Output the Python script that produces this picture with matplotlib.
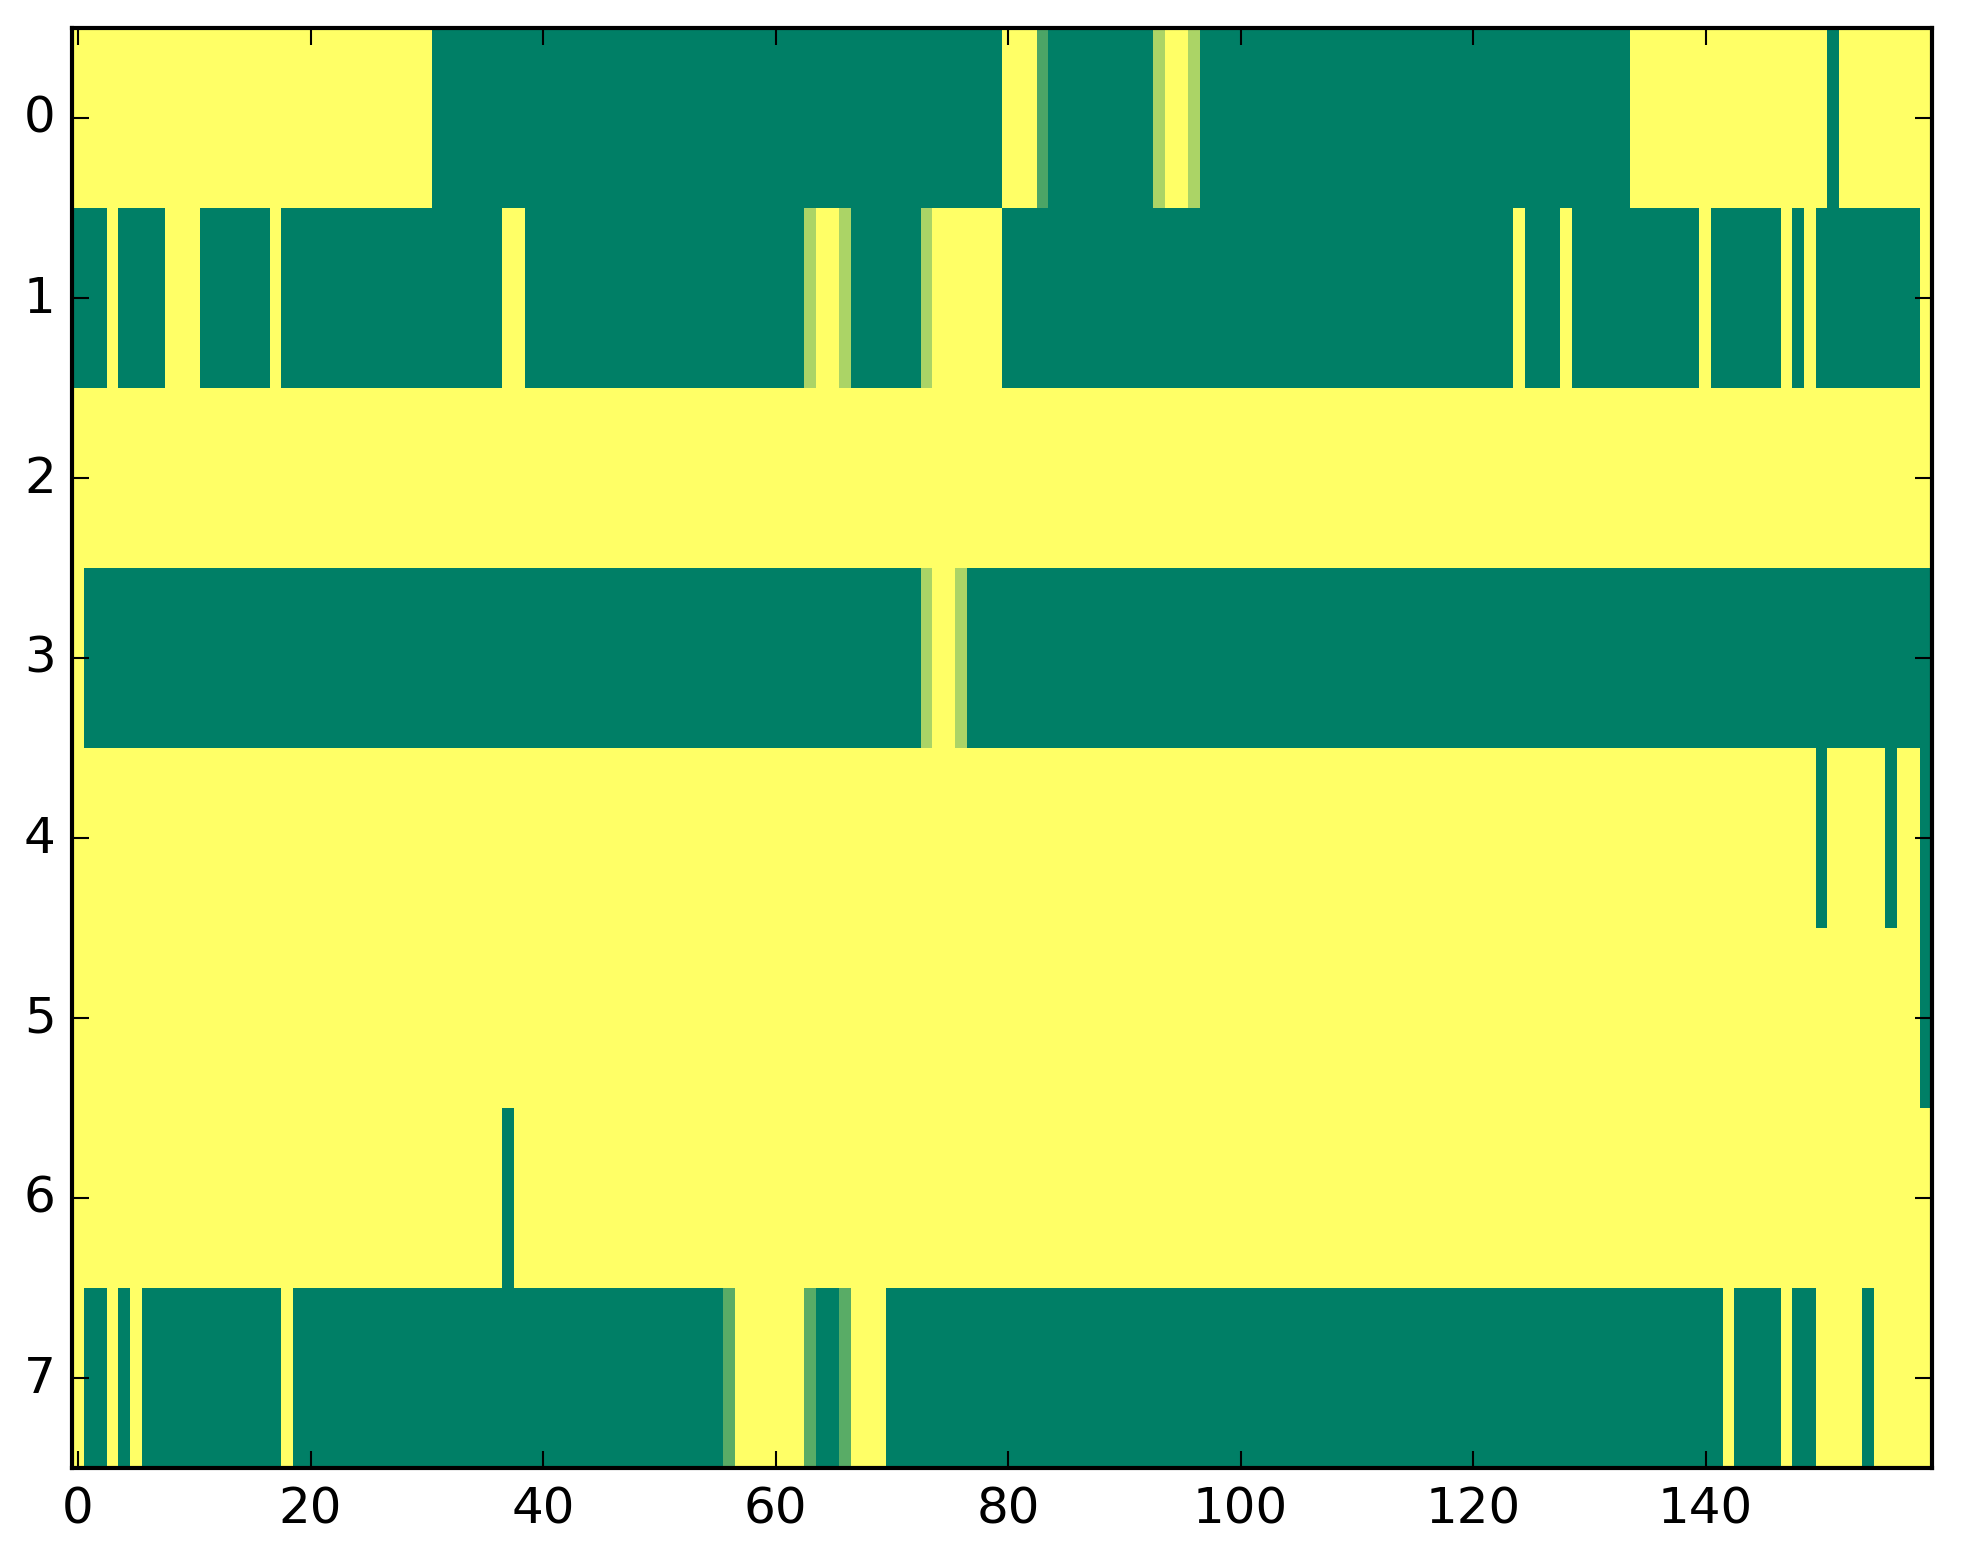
import numpy as np
import matplotlib
matplotlib.use("Agg")
import matplotlib.pyplot as plt

# values: 1.0 = yellow, 0.0 = green, intermediate values in between
Y, G, L, M, D = 1.0, 0.0, 0.67, 0.35, 0.3

# each row given as runs of (value, count) over 160 columns
row0 = [(Y, 31), (G, 49), (Y, 3), (D, 1), (G, 9), (L, 1), (Y, 2), (L, 1), (G, 37), (Y, 17), (G, 1), (Y, 8)]
row1 = [(G, 3), (Y, 1), (G, 4), (Y, 3), (G, 6), (Y, 1), (G, 19), (Y, 2), (G, 24), (L, 1), (Y, 2), (L, 1),
        (G, 6), (L, 1), (Y, 6), (G, 44), (Y, 1), (G, 3), (Y, 1), (G, 11), (Y, 1), (G, 6), (Y, 1), (G, 1),
        (Y, 1), (G, 9), (Y, 1)]
row2 = [(Y, 160)]
row3 = [(Y, 1), (G, 72), (L, 1), (Y, 2), (L, 1), (G, 83)]
row4 = [(Y, 150), (G, 1), (Y, 5), (G, 1), (Y, 2), (G, 1)]
row5 = [(Y, 159), (G, 1)]
row6 = [(Y, 37), (G, 1), (Y, 122)]
row7 = [(Y, 1), (G, 2), (Y, 1), (G, 1), (Y, 1), (G, 12), (Y, 1), (G, 37), (M, 1), (Y, 6), (M, 1), (G, 2),
        (M, 1), (Y, 3), (G, 72), (Y, 1), (G, 4), (Y, 1), (G, 2), (Y, 4), (G, 1), (Y, 5)]

rows = [row0, row1, row2, row3, row4, row5, row6, row7]


def expand(runs):
    vals = [v for v, n in runs]
    counts = [n for v, n in runs]
    return np.repeat(vals, counts)


data = np.vstack([expand(r) for r in rows])

plt.style.use("classic")
W, H, DPI = 1963, 1564, 300
fig = plt.figure(figsize=(W / DPI, H / DPI), dpi=DPI)
ax = fig.add_axes([72.3 / W, 1 - 1468.7 / H, 1860 / W, 1440 / H])
ax.imshow(data, cmap="summer", interpolation="nearest", aspect="auto", vmin=0, vmax=1)
fig.savefig("out.png", dpi=DPI)
